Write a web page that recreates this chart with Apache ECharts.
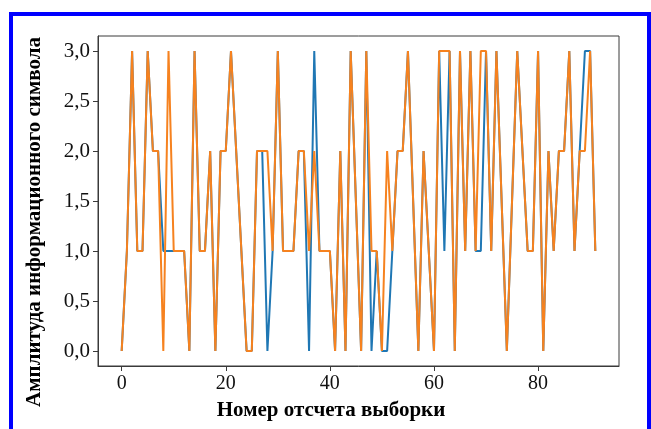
<!DOCTYPE html>
<html>
<head>
<meta charset="utf-8">
<script src="https://cdn.jsdelivr.net/npm/echarts@6/dist/echarts.min.js"></script>
<style>
  html, body { margin: 0; padding: 0; background: #fff; }
  #chart { width: 651px; height: 429px; }
</style>
</head>
<body>
<div id="chart"></div>
<script>
// sample values (index = sample number)
const blueSeries = [
  0, 1, 3, 1, 1, 3, 2, 2, 1, 1,
  1, 1, 1, 0, 3, 1, 1, 2, 0, 2,
  2, 3, 2, 1, 0, 0, 2, 2, 0, 1,
  3, 1, 1, 1, 2, 2, 0, 3, 1, 1,
  1, 0, 2, 0, 3, 1.5, 0, 3, 0, 1,
  0, 0, 1, 2, 2, 3, 1.5, 0, 2, 1,
  0, 3, 1, 3, 0, 3, 1, 3, 1, 1,
  3, 1, 3, 1.5, 0, 1.5, 3, 2, 1, 1,
  3, 0, 2, 1, 2, 2, 3, 1, 2, 3,
  3, 1
]
const orangeSeries = [
  0, 1, 3, 1, 1, 3, 2, 2, 0, 3,
  1, 1, 1, 0, 3, 1, 1, 2, 0, 2,
  2, 3, 2, 1, 0, 0, 2, 2, 2, 1,
  3, 1, 1, 1, 2, 2, 1, 2, 1, 1,
  1, 0, 2, 0, 3, 1.5, 0, 3, 1, 1,
  0, 2, 1, 2, 2, 3, 1.5, 0, 2, 1,
  0, 3, 3, 3, 0, 3, 1, 3, 1, 3,
  3, 1, 3, 1.5, 0, 1.5, 3, 2, 1, 1,
  3, 0, 2, 1, 2, 2, 3, 1, 2, 2,
  3, 1
]
const xTicks = [0, 20, 40, 60, 80]
const yTicks = [0, 0.5, 1, 1.5, 2, 2.5, 3]

const xTitle = 'Номер отсчета выборки'
const yTitle = 'Амплитуда информационного символа'

const chart = echarts.init(document.getElementById('chart'))

const frameColor = '#3a3a3a'
const titleStyle = { fontFamily: 'Liberation Serif', fontSize: 21, fontWeight: 'bold', fill: '#000' }

chart.setOption({
  animation: false,
  backgroundColor: '#fff',
  grid: {
    left: 98,
    right: 32,
    top: 36,
    bottom: 63,
    show: true,
    borderColor: frameColor,
    borderWidth: 1
  },
  graphic: [{
    // blue frame around the figure
    type: 'rect',
    shape: { x: 11, y: 14, width: 638, height: 440 },
    style: { fill: 'none', stroke: '#0000ff', lineWidth: 4 },
    silent: true
  }, {
    type: 'text',
    x: 331,
    y: 411,
    style: { text: xTitle, align: 'center', verticalAlign: 'middle', ...titleStyle }
  }, {
    type: 'text',
    x: 35,
    y: 222,
    rotation: Math.PI / 2,
    style: { text: yTitle, align: 'center', verticalAlign: 'middle', ...titleStyle }
  }],
  xAxis: {
    type: 'value',
    min: -4.55,
    max: 95.55,
    axisLine: { show: true, onZero: false, lineStyle: { color: frameColor, width: 1 } },
    axisTick: { show: true, length: 5, customValues: xTicks, lineStyle: { color: frameColor } },
    axisLabel: { customValues: xTicks, margin: 8, fontFamily: 'Liberation Serif', fontSize: 20, color: '#111' },
    splitLine: { show: false }
  },
  yAxis: {
    type: 'value',
    min: -0.15,
    max: 3.15,
    axisLine: { show: true, onZero: false, lineStyle: { color: frameColor, width: 1 } },
    axisTick: { show: true, length: 5, customValues: yTicks, lineStyle: { color: frameColor } },
    axisLabel: {
      customValues: yTicks,
      margin: 8,
      fontFamily: 'Liberation Serif',
      fontSize: 21,
      color: '#111',
      formatter: v => v.toFixed(1).replace('.', ',')
    },
    splitLine: { show: false }
  },
  series: [{
    type: 'line',
    data: blueSeries.map((v, i) => [i, v]),
    showSymbol: false,
    lineStyle: { color: '#1f77b4', width: 2 },
    z: 2
  }, {
    type: 'line',
    data: orangeSeries.map((v, i) => [i, v]),
    showSymbol: false,
    lineStyle: { color: '#f6821f', width: 2 },
    z: 3
  }]
})
</script>
</body>
</html>
